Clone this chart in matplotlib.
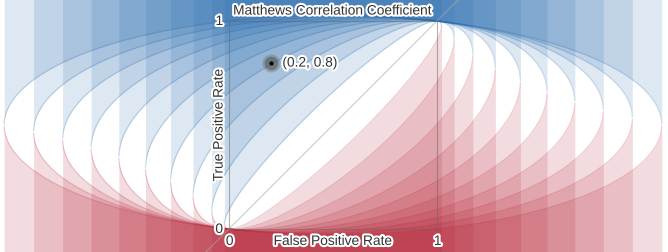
import numpy as np
import matplotlib
matplotlib.use("Agg")
import matplotlib.pyplot as plt
import matplotlib.patheffects as pe
from matplotlib.patches import Rectangle

# ---- data ----
prevalence = 0.9
mcc_levels = [0.1, 0.2, 0.3, 0.4, 0.5, 0.6, 0.7, 0.8, 0.9, 1.0]
point_fpr = [0.2]
point_tpr = [0.8]
point_label = "(0.2, 0.8)"
title = "Matthews Correlation Coefficient"
x_label = "False Positive Rate"
y_label = "True Positive Rate"
tick_vals = [0, 1]
tick_labels = ["0", "1"]

blue = "#2166ac"
red = "#b2182b"
text_color = "#333333"

plt.rcParams["font.family"] = ["Liberation Sans", "DejaVu Sans"]

fig = plt.figure(figsize=(6.68, 2.53), dpi=100)
ax = fig.add_axes([0, 0, 1, 1])
ax.set_xlim(-1.101, 2.111)
ax.set_ylim(-0.1106, 1.1058)
ax.axis("off")
ymin, ymax = ax.get_ylim()

p = prevalence
q = p * (1 - p)


def branches(m):
    # conic  q (T-F)^2 = m^2 P'(1-P'),  P' = p T + (1-p) F, solved for T
    R = np.sqrt(1 + p * m * m / (1 - p))
    theta = np.linspace(0.012, np.pi - 0.012, 900)
    F = 0.5 - 0.5 * R * np.cos(theta)
    c = (1 - p) * F
    A = q + m * m * p * p
    B = -2 * q * F - m * m * p + 2 * m * m * p * c
    C = q * F * F - m * m * c + m * m * c * c
    D = np.clip(B * B - 4 * A * C, 0, None)
    Tu = (-B + np.sqrt(D)) / (2 * A)
    Tl = (-B - np.sqrt(D)) / (2 * A)
    return F, Tu, Tl


for m in mcc_levels:
    F, Tu, Tl = branches(m)
    ax.fill_between(F, Tu, ymax, color=blue, alpha=0.15, lw=0, zorder=1)
    ax.fill_between(F, ymin, Tl, color=red, alpha=0.15, lw=0, zorder=1)
    ax.plot(F, Tu, color=blue, alpha=0.22, lw=0.9, zorder=2)
    ax.plot(F, Tl, color=red, alpha=0.22, lw=0.9, zorder=2)

# chance diagonal and unit square
ax.axline((0, 0), (1, 1), color="#aaaaaa", alpha=0.55, lw=0.9, zorder=3)
ax.add_patch(Rectangle((0, 0), 1, 1, fill=False, edgecolor="#666666",
                       alpha=0.5, lw=0.8, zorder=3))

# point
ax.scatter(point_fpr, point_tpr, s=170, color="#666666", alpha=0.35, lw=0, zorder=4)
ax.scatter(point_fpr, point_tpr, s=95, color="#555555", alpha=0.55, lw=0, zorder=4)
ax.scatter(point_fpr, point_tpr, s=9, color="black", lw=0, zorder=5)

halo = [pe.withStroke(linewidth=3, foreground="white")]
fs = 9.9
kw = dict(color=text_color, fontsize=fs, path_effects=halo, zorder=6)

ax.annotate(point_label, (point_fpr[0], point_tpr[0]), xytext=(8.5, 0),
            textcoords="offset points", ha="left", va="center", **kw)
ax.annotate(title, (0.5, 1.0), xytext=(0, 7.5), textcoords="offset points",
            ha="center", va="center", **kw)
ax.annotate(x_label, (0.5, 0.0), xytext=(0, -8.6), textcoords="offset points",
            ha="center", va="center", **kw)
ax.annotate(y_label, (0.0, 0.5), xytext=(-7.5, 0), textcoords="offset points",
            ha="center", va="center", rotation=90, **kw)
for v, lab in zip(tick_vals, tick_labels):
    ax.annotate(lab, (v, 0.0), xytext=(0.5, -8.6), textcoords="offset points",
                ha="center", va="center", **kw)
    ax.annotate(lab, (0.0, v), xytext=(-4.3, 0), textcoords="offset points",
                ha="right", va="center", **kw)

fig.savefig("out.png", dpi=100)
